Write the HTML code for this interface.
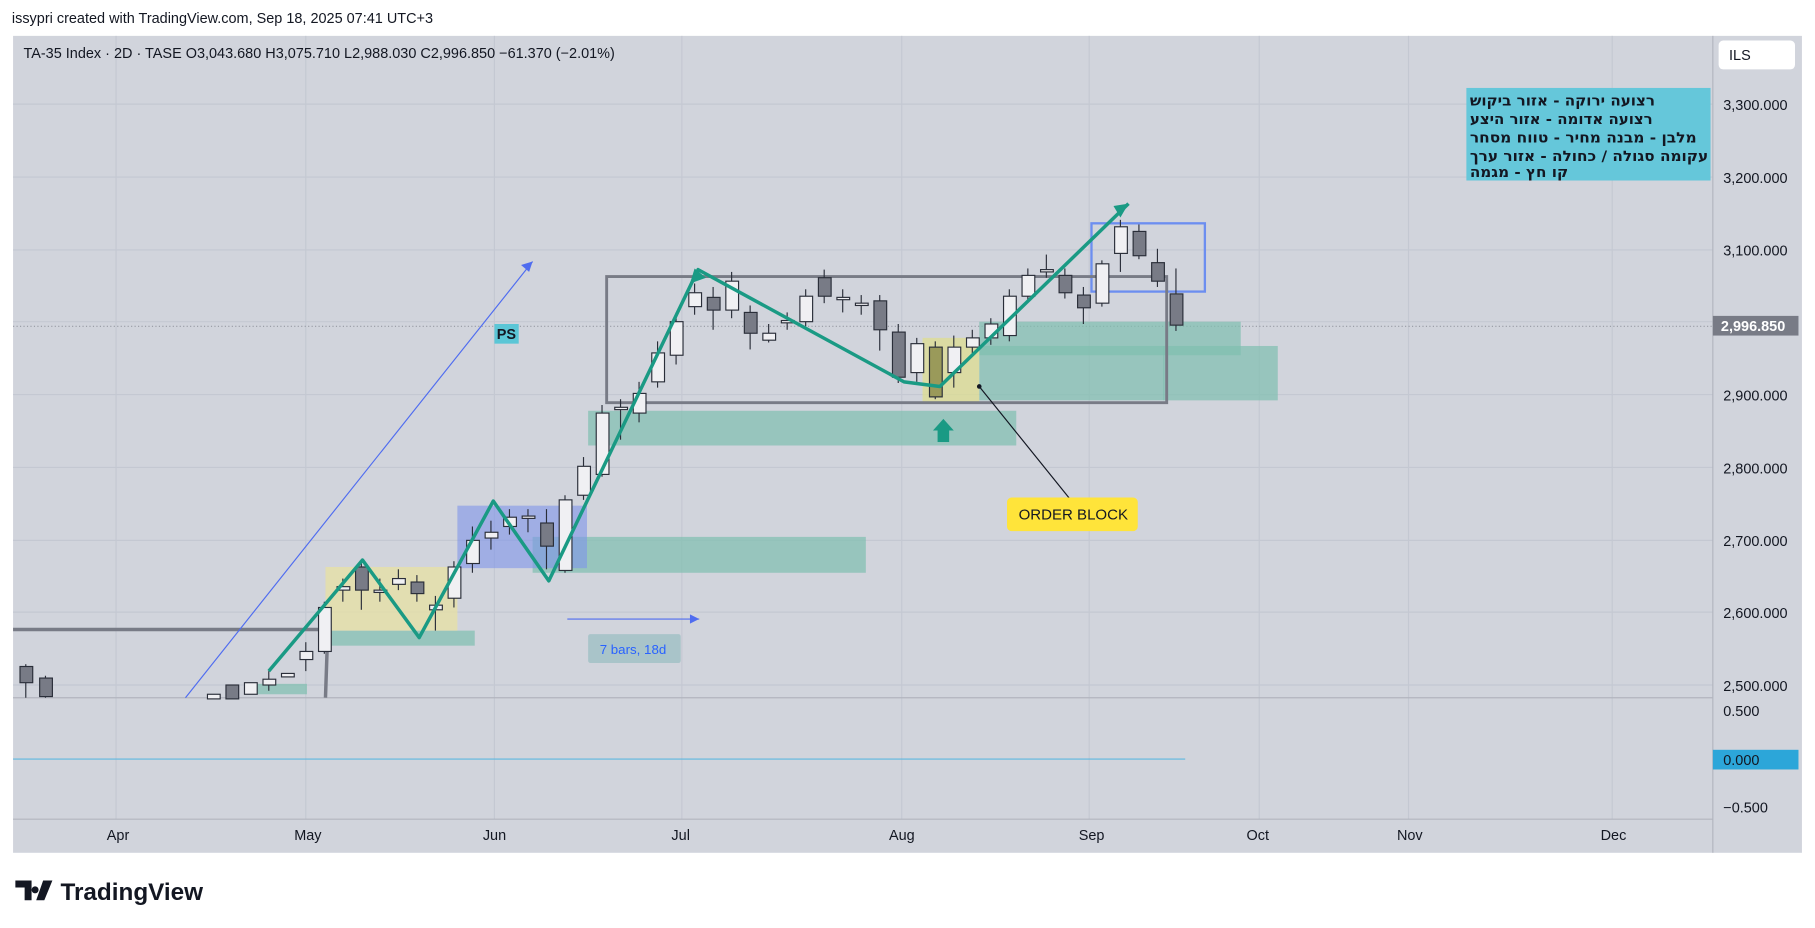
<!DOCTYPE html>
<html><head><meta charset="utf-8"><style>
body{margin:0;background:#fff;width:1815px;height:928px;overflow:hidden}
svg{display:block;font-family:"Liberation Sans","Noto Sans CJK SC",sans-serif}
</style></head><body>
<svg width="1815" height="928" viewBox="0 0 1568 802" xmlns="http://www.w3.org/2000/svg">
<rect x="0" y="0" width="1568" height="802" fill="#fff"/>
<text x="10" y="20" font-size="12.5" fill="#131722">issypri created with TradingView.com, Sep 18, 2025 07:41 UTC+3</text>
<rect x="11" y="31" width="1546" height="706" fill="#d1d4dc"/>
<g stroke="#c4c8d2" stroke-width="1">
<line x1="100" y1="31" x2="100" y2="708"/><line x1="264" y1="31" x2="264" y2="708"/><line x1="427" y1="31" x2="427" y2="708"/><line x1="589" y1="31" x2="589" y2="708"/><line x1="779" y1="31" x2="779" y2="708"/><line x1="941" y1="31" x2="941" y2="708"/><line x1="1088" y1="31" x2="1088" y2="708"/><line x1="1217" y1="31" x2="1217" y2="708"/><line x1="1393" y1="31" x2="1393" y2="708"/>
<line x1="11" y1="90" x2="1480" y2="90"/><line x1="11" y1="153" x2="1480" y2="153"/><line x1="11" y1="216" x2="1480" y2="216"/><line x1="11" y1="278" x2="1480" y2="278"/><line x1="11" y1="341" x2="1480" y2="341"/><line x1="11" y1="404" x2="1480" y2="404"/><line x1="11" y1="467" x2="1480" y2="467"/><line x1="11" y1="529" x2="1480" y2="529"/><line x1="11" y1="592" x2="1480" y2="592"/>
</g>
<line x1="1480" y1="31" x2="1480" y2="737" stroke="#b2b5be"/>
<line x1="11" y1="603" x2="1480" y2="603" stroke="#b2b5be"/>
<line x1="11" y1="708" x2="1480" y2="708" stroke="#b2b5be"/>
<text x="20" y="50" font-size="12.5" fill="#131722">TA-35 Index · 2D · TASE  O3,043.680  H3,075.710  L2,988.030  C2,996.850  −61.370 (−2.01%)</text>
<rect x="1485" y="35" width="66" height="25" rx="4" fill="#fff"/>
<text x="1494" y="52" font-size="12.5" fill="#131722">ILS</text>
<g font-size="12.5" fill="#131722">
<text x="1489" y="95">3,300.000</text><text x="1489" y="158">3,200.000</text><text x="1489" y="221">3,100.000</text><text x="1489" y="346">2,900.000</text><text x="1489" y="409">2,800.000</text><text x="1489" y="472">2,700.000</text><text x="1489" y="534">2,600.000</text><text x="1489" y="597">2,500.000</text>
<text x="1489" y="619">0.500</text><text x="1489" y="702">−0.500</text>
<text x="92" y="726">Apr</text><text x="254" y="726">May</text><text x="417" y="726">Jun</text><text x="580" y="726">Jul</text><text x="768" y="726">Aug</text><text x="932" y="726">Sep</text><text x="1077" y="726">Oct</text><text x="1207" y="726">Nov</text><text x="1383" y="726">Dec</text>
</g>
<rect x="1480" y="273" width="74" height="17" fill="#787b86"/>
<text x="1487" y="286" font-size="12.5" font-weight="bold" fill="#fff">2,996.850</text>
<rect x="1480" y="648" width="74" height="17" fill="#2ca6d9"/>
<text x="1489" y="661" font-size="12.5" fill="#131722">0.000</text>
<line x1="11" y1="282" x2="1480" y2="282" stroke="#9598a1" stroke-dasharray="1,2"/>
<line x1="11" y1="656" x2="1024" y2="656" stroke="#5eb7e0"/>
<g fill="#7fbfaf" fill-opacity="0.7">
<rect x="508" y="355" width="370" height="30"/>
<rect x="460" y="464" width="288" height="31"/>
<rect x="846" y="278" width="226" height="29"/>
<rect x="1005" y="299" width="99" height="47"/>
<rect x="846" y="299" width="160" height="47"/>
<rect x="283" y="545" width="127" height="13"/>
<rect x="213" y="591" width="52" height="9"/>
</g>
<rect x="281" y="490" width="114" height="55" fill="#e6e0a6" fill-opacity="0.8"/>
<rect x="797" y="292" width="49" height="56" fill="#dede90" fill-opacity="0.75"/>
<rect x="395" y="437" width="112" height="54" fill="#7f95ea" fill-opacity="0.6"/>
<rect x="943" y="193" width="98" height="59" fill="none" stroke="#6c8ef0" stroke-width="2"/>
<rect x="524" y="239" width="484" height="109" fill="none" stroke="#787b86" stroke-width="2.5"/>
<polyline points="11,544 283,544 281,603" fill="none" stroke="#787b86" stroke-width="3"/>
<line x1="160" y1="603" x2="460" y2="226" stroke="#4f6cf0"/>
<polygon points="460,226 450,229 457,235" fill="#4f6cf0"/>
<g stroke="#2a2e39" stroke-width="1">
<g fill="#787b86">
<line x1="22" y1="574" x2="22" y2="603"/><rect x="17" y="576" width="11" height="14"/>
<line x1="39" y1="584" x2="39" y2="603"/><rect x="34" y="586" width="11" height="16"/>
<rect x="195" y="592" width="11" height="12"/>
<line x1="312" y1="485" x2="312" y2="527"/><rect x="307" y="490" width="11" height="20"/>
<line x1="360" y1="497" x2="360" y2="520"/><rect x="355" y="503" width="11" height="10"/>
<line x1="472" y1="440" x2="472" y2="492"/><rect x="467" y="452" width="11" height="20"/>
<line x1="616" y1="248" x2="616" y2="285"/><rect x="611" y="257" width="11" height="11"/>
<line x1="648" y1="264" x2="648" y2="302"/><rect x="643" y="270" width="11" height="18"/>
<line x1="712" y1="233" x2="712" y2="262"/><rect x="707" y="240" width="11" height="16"/>
<line x1="760" y1="255" x2="760" y2="303"/><rect x="755" y="260" width="11" height="25"/>
<line x1="776" y1="280" x2="776" y2="331"/><rect x="771" y="287" width="11" height="39"/>
<line x1="920" y1="232" x2="920" y2="258"/><rect x="915" y="238" width="11" height="15"/>
<line x1="936" y1="248" x2="936" y2="280"/><rect x="931" y="255" width="11" height="11"/>
<line x1="984" y1="194" x2="984" y2="224"/><rect x="979" y="200" width="11" height="21"/>
<line x1="1000" y1="215" x2="1000" y2="248"/><rect x="995" y="227" width="11" height="16"/>
<line x1="1016" y1="232" x2="1016" y2="286"/><rect x="1011" y="254" width="11" height="27"/>
<line x1="808" y1="295" x2="808" y2="345"/><rect x="803" y="300" width="11" height="43" fill="#9a9a5a"/>
</g>
<g fill="#f0f0f3">
<rect x="179" y="600" width="11" height="4"/>
<rect x="211" y="590" width="11" height="10"/>
<line x1="232" y1="580" x2="232" y2="597"/><rect x="227" y="587" width="11" height="5"/>
<rect x="243" y="582" width="11" height="3"/>
<line x1="264" y1="555" x2="264" y2="580"/><rect x="259" y="563" width="11" height="7"/>
<line x1="280" y1="520" x2="280" y2="565"/><rect x="275" y="525" width="11" height="38"/>
<line x1="296" y1="500" x2="296" y2="520"/><rect x="291" y="507" width="11" height="3"/>
<line x1="328" y1="500" x2="328" y2="520"/><rect x="323" y="510" width="11" height="2"/>
<line x1="344" y1="492" x2="344" y2="510"/><rect x="339" y="500" width="11" height="5"/>
<line x1="376" y1="515" x2="376" y2="545"/><rect x="371" y="523" width="11" height="4"/>
<line x1="392" y1="485" x2="392" y2="525"/><rect x="387" y="490" width="11" height="27"/>
<line x1="408" y1="455" x2="408" y2="495"/><rect x="403" y="467" width="11" height="20"/>
<line x1="424" y1="450" x2="424" y2="475"/><rect x="419" y="460" width="11" height="5"/>
<line x1="440" y1="440" x2="440" y2="462"/><rect x="435" y="447" width="11" height="8"/>
<line x1="456" y1="440" x2="456" y2="460"/><rect x="451" y="446" width="11" height="2"/>
<line x1="488" y1="428" x2="488" y2="495"/><rect x="483" y="432" width="11" height="61"/>
<line x1="504" y1="395" x2="504" y2="432"/><rect x="499" y="403" width="11" height="25"/>
<line x1="520" y1="350" x2="520" y2="412"/><rect x="515" y="357" width="11" height="53"/>
<line x1="536" y1="345" x2="536" y2="380"/><rect x="531" y="352" width="11" height="2"/>
<line x1="552" y1="330" x2="552" y2="365"/><rect x="547" y="340" width="11" height="17"/>
<line x1="568" y1="295" x2="568" y2="335"/><rect x="563" y="305" width="11" height="25"/>
<line x1="584" y1="270" x2="584" y2="315"/><rect x="579" y="278" width="11" height="29"/>
<line x1="600" y1="245" x2="600" y2="272"/><rect x="595" y="253" width="11" height="12"/>
<line x1="632" y1="235" x2="632" y2="275"/><rect x="627" y="243" width="11" height="25"/>
<line x1="664" y1="280" x2="664" y2="296"/><rect x="659" y="288" width="11" height="6"/>
<line x1="680" y1="270" x2="680" y2="285"/><rect x="675" y="277" width="11" height="2"/>
<line x1="696" y1="250" x2="696" y2="282"/><rect x="691" y="256" width="11" height="22"/>
<line x1="728" y1="250" x2="728" y2="270"/><rect x="723" y="257" width="11" height="2"/>
<line x1="744" y1="255" x2="744" y2="272"/><rect x="739" y="262" width="11" height="2"/>
<line x1="792" y1="292" x2="792" y2="330"/><rect x="787" y="297" width="11" height="25"/>
<line x1="824" y1="290" x2="824" y2="335"/><rect x="819" y="300" width="11" height="22"/>
<line x1="840" y1="285" x2="840" y2="305"/><rect x="835" y="292" width="11" height="8"/>
<line x1="856" y1="275" x2="856" y2="298"/><rect x="851" y="280" width="11" height="12"/>
<line x1="872" y1="250" x2="872" y2="295"/><rect x="867" y="256" width="11" height="34"/>
<line x1="888" y1="232" x2="888" y2="260"/><rect x="883" y="238" width="11" height="18"/>
<line x1="904" y1="220" x2="904" y2="240"/><rect x="899" y="233" width="11" height="2"/>
<line x1="952" y1="225" x2="952" y2="265"/><rect x="947" y="228" width="11" height="34"/>
<line x1="968" y1="190" x2="968" y2="235"/><rect x="963" y="196" width="11" height="23"/>
</g>
</g>
<polyline points="232,580 313,484 362,551 426,433 474,502 603,233 781,330 812,334 975,176" fill="none" stroke="#1a9a84" stroke-width="3" stroke-linejoin="round"/>
<polygon points="975,176 962,178 968,188" fill="#1a9a84"/>
<polygon points="600,232 596,245 610,240" fill="#1a9a84"/>
<polygon points="806,372 815,362 824,372" fill="#1a9a84"/>
<rect x="810" y="370" width="10" height="12" fill="#1a9a84"/>
<line x1="490" y1="535" x2="604" y2="535" stroke="#4f6cf0"/>
<polygon points="604,535 596,531 596,539" fill="#4f6cf0"/>
<rect x="508" y="548" width="80" height="25" rx="2" fill="#a9c4c9"/>
<text x="518" y="565" font-size="11.5" fill="#2962ff">7 bars, 18d</text>
<rect x="427" y="280" width="21" height="17" fill="#5bc6d6"/>
<text x="429" y="293" font-size="12.5" font-weight="bold" fill="#131722">PS</text>
<line x1="846" y1="334" x2="925" y2="432" stroke="#131722"/>
<circle cx="846" cy="334" r="2" fill="#131722"/>
<rect x="870" y="430" width="113" height="29" rx="4" fill="#ffe43a"/>
<text x="880" y="449" font-size="13" fill="#131722">ORDER BLOCK</text>
<rect x="1267" y="76" width="211" height="80" fill="#65c7da"/>
<g font-size="12.5" font-weight="bold" fill="#131722" font-family="'DejaVu Sans','Liberation Sans',sans-serif">
<text x="1270" y="91" textLength="160" lengthAdjust="spacingAndGlyphs">רצועה ירוקה - אזור ביקוש</text>
<text x="1270" y="107" textLength="158" lengthAdjust="spacingAndGlyphs">רצועה אדומה - אזור היצע</text>
<text x="1270" y="123" textLength="196" lengthAdjust="spacingAndGlyphs">מלבן - מבנה מחיר - טווח מסחר</text>
<text x="1270" y="139" textLength="206" lengthAdjust="spacingAndGlyphs">עקומה סגולה / כחולה - אזור ערך</text>
<text x="1270" y="153" textLength="85" lengthAdjust="spacingAndGlyphs">קו חץ - מגמה</text>
</g>
<path d="M13 761h14v17h-6v-11h-8z M30 766a3 3 0 1 0 0.1 0z M37 761h8l-7 17h-7z" fill="#131722"/>
<text x="52" y="778" font-size="21" font-weight="bold" fill="#131722">TradingView</text>
</svg>
</body></html>
